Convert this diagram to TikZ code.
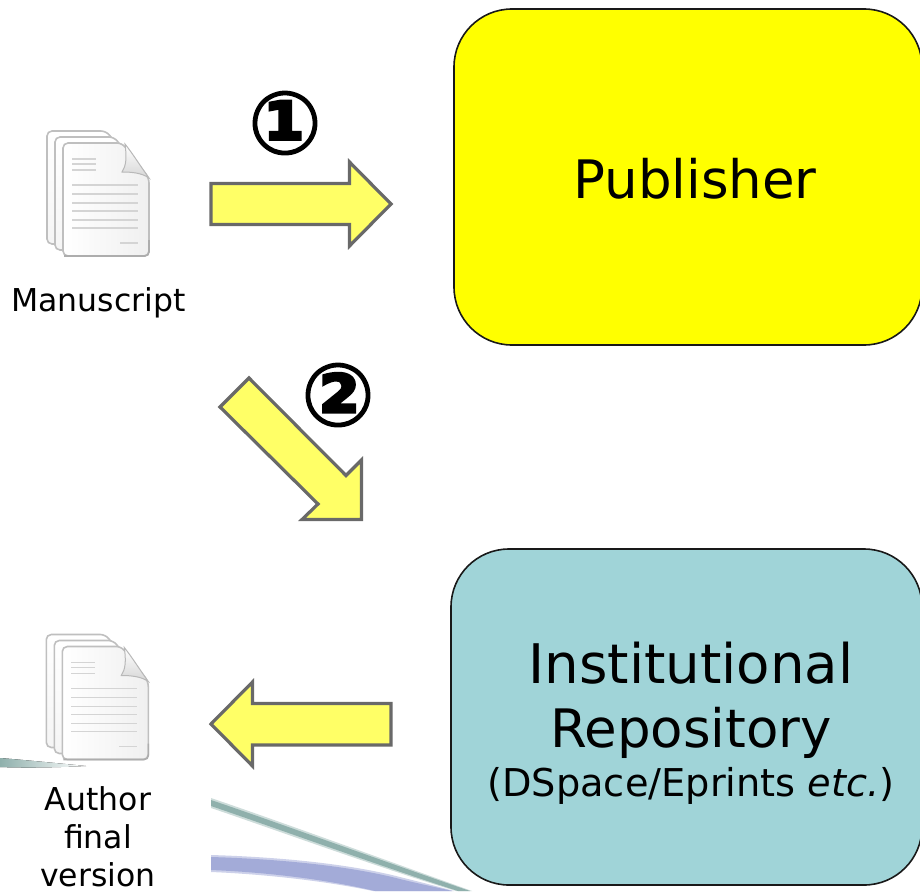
\documentclass[tikz,border=0pt]{standalone}
\usepackage{fontspec}
\setmainfont{DejaVu Sans}
\newfontfamily\circfont{DejaVu Sans Bold}[FakeBold=1.6]
\definecolor{pubyellow}{HTML}{FFFF00}
\definecolor{repoteal}{HTML}{A0D4D8}
\definecolor{arrowfill}{HTML}{FFFF66}
\definecolor{arrowline}{HTML}{696969}
\definecolor{swgreen}{HTML}{8FB0AC}
\definecolor{swblue}{HTML}{A3ABD8}
\tikzset{
  bigbox/.style={draw=black!90,line width=1.6pt,rounded corners=58pt,inner sep=0pt,minimum height=336pt},
  blockarrow/.style={draw=arrowline,fill=arrowfill,line width=3.2pt,miter limit=10},
  big/.style={anchor=base,inner sep=0pt,font=\fontsize{53}{53}\selectfont},
  mid/.style={anchor=base,inner sep=0pt,font=\fontsize{38.3}{38}\selectfont},
  small/.style={anchor=base,inner sep=0pt,font=\fontsize{31.5}{32}\selectfont},
  circnum/.style={inner sep=0pt,font=\fontsize{87}{87}\circfont},
  pageA/.style={draw=black!25,line width=1.6pt,top color=white,bottom color=black!4},
  txtline/.style={draw=black!17,line width=1.2pt},
}
\newcommand{\docpage}[5]{% left top right bottom cornerx
  \path[pageA,rounded corners=5pt] (#1,#4) -- (#1,#2) -- (#5,#2) -- (#3,#2+35) -- (#3,#4) -- cycle;
}
\newcommand{\docicon}[2]{%
\begin{scope}[shift={(#1,#2)}]
  \docpage{47}{131}{135}{244}{106}
  \docpage{55}{137}{142}{250}{114}
  \path[draw=black!25,line width=1.6pt,rounded corners=5pt,left color=white,right color=black!6]
     (63,256) -- (63,143) -- (122,143) -- (149,178) -- (149,256) -- cycle;
  \draw[black!32,line width=1.6pt,rounded corners=4pt] (64,256) -- (149,256) -- (149,240);
  \path[draw=black!28,line width=1pt,top color=white,bottom color=black!16]
     (125,144) .. controls (127,158) and (126,166) .. (122,172)
     .. controls (132,172) and (142,173) .. (149,178)
     .. controls (141,167) and (133,154) .. (125,144) -- cycle;
  \foreach \yy in {159,164,170} \draw[txtline] (72,\yy) -- (96,\yy);
  \foreach \yy in {185,194,203,211,220,228} \draw[txtline] (72,\yy) -- (138,\yy);
  \draw[txtline] (120,243) -- (138,243);
\end{scope}}
\begin{document}
\begin{tikzpicture}[x=1pt,y=-1pt]
\useasboundingbox (0,0) rectangle (920,891);
\clip (0,0) rectangle (920,891);
% background swooshes
\fill[left color=swgreen,right color=white] (0,758) .. controls (25,760) and (55,763) .. (86,766) .. controls (55,767.5) and (25,768) .. (0,767) -- cycle;
\fill[swblue!55] (211,855) .. controls (280,857) and (350,864) .. (400,877) .. controls (420,882) and (440,887) .. (454,891) -- (373,891) .. controls (320,880) and (260,874) .. (211,872) -- cycle;
\fill[swblue] (211,857) .. controls (280,859) and (350,866) .. (400,879) .. controls (420,884) and (440,888) .. (452,891) -- (375,891) .. controls (320,878) and (260,872) .. (211,870) -- cycle;
\fill[swgreen!45] (211,798) .. controls (270,818) and (380,858) .. (472,891) -- (456,891) .. controls (380,868) and (270,828) .. (211,808) -- cycle;
\fill[swgreen] (211,800) .. controls (270,820) and (380,860) .. (470,891) -- (458,891) .. controls (380,866) and (270,826) .. (211,806) -- cycle;
% icons
\docicon{0}{0}
\docicon{-0.7}{503.5}
% boxes
\node[bigbox,fill=pubyellow,minimum width=468pt] (publisher) at (688,177) {};
\node[bigbox,fill=repoteal,minimum width=471pt] (repository) at (686.5,717) {};
% arrows
\path[blockarrow] (211,183.5) -- (349.5,183.5) -- (349.5,162) -- (391,204) -- (349.5,246) -- (349.5,224.5) -- (211,224.5) -- cycle;
\path[blockarrow] (249,378) -- (346,475.5) -- (361.5,460) -- (361.5,519.5) -- (302,519.5) -- (318,504) -- (220,407) -- cycle;
\path[blockarrow] (391,703.5) -- (252.5,703.5) -- (252.5,682) -- (211,724) -- (252.5,766) -- (252.5,745) -- (391,745) -- cycle;
% labels
\node[big] (publabel) at (695,198) {Publisher};
\node[big,font=\fontsize{54.6}{55}\selectfont] (repolabel1) at (691,683) {Institutional};
\node[big] (repolabel2) at (691,747) {Repository};
\node[mid] (repolabel3) at (691,796) {(DSpace/Eprints \textit{etc.})};
\node[small] (mslabel) at (98.5,311) {Manuscript};
\node[small] (afv1) at (98,810) {Author};
\node[small] (afv2) at (98,848) {final};
\node[small] (afv3) at (98,886) {version};
\node[circnum] (one) at (285,123) {①};
\node[circnum] (two) at (338,395) {②};
\end{tikzpicture}
\end{document}
